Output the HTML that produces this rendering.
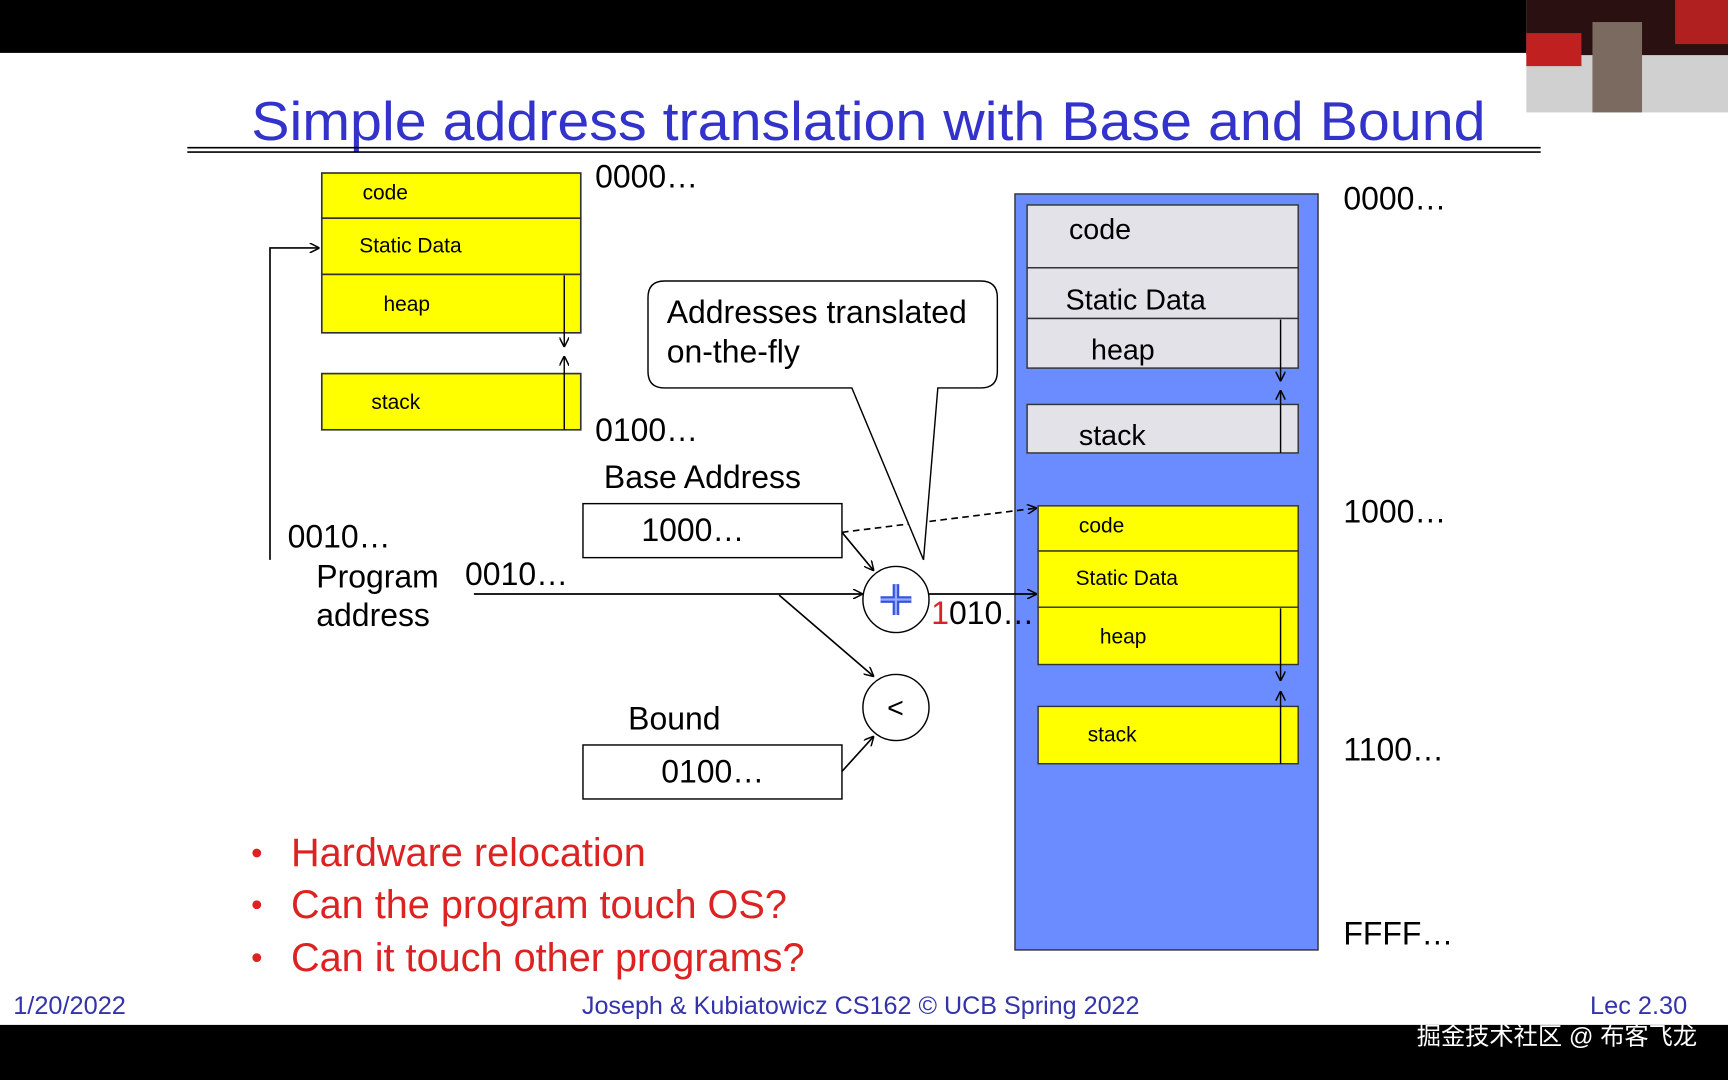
<!DOCTYPE html>
<html><head><meta charset="utf-8"><style>
html,body{margin:0;padding:0;background:#fff;overflow:hidden}
svg{display:block}
text{font-family:"Liberation Sans","Noto Sans CJK SC",sans-serif}
</style></head><body>
<svg width="1728" height="1080" viewBox="0 0 1568 980" xmlns="http://www.w3.org/2000/svg">
<defs>
<marker id="a" viewBox="0 0 10 10" refX="10" refY="5" markerWidth="9" markerHeight="9" orient="auto-start-reverse" markerUnits="userSpaceOnUse"><path d="M0,0 L10,5 L0,10" fill="none" stroke="#000" stroke-width="1.5"/></marker>
</defs>
<rect width="1568" height="980" fill="#fff"/>
<rect x="0" y="0" width="1568" height="48" fill="#000"/>
<rect x="0" y="930" width="1568" height="50" fill="#000"/>
<rect x="1385" y="0" width="183" height="102" fill="#d0d0d0"/>
<rect x="1385" y="0" width="183" height="50" fill="#2a1010"/>
<rect x="1385" y="30" width="50" height="30" fill="#c02020"/>
<rect x="1520" y="0" width="48" height="40" fill="#b02020"/>
<rect x="1445" y="20" width="45" height="82" fill="#7a6a60"/>
<text x="228" y="127" font-size="50" fill="#3333cc" textLength="1120" lengthAdjust="spacingAndGlyphs">Simple address translation with Base and Bound</text>
<line x1="170" y1="134" x2="1398" y2="134" stroke="#000" stroke-width="1.5"/>
<line x1="170" y1="138" x2="1398" y2="138" stroke="#000" stroke-width="1.5"/>
<g stroke="#333" stroke-width="1.5" fill="#ffff00">
<rect x="292" y="157" width="235" height="41"/><rect x="292" y="198" width="235" height="51"/>
<rect x="292" y="249" width="235" height="53"/><rect x="292" y="339" width="235" height="51"/>
</g>
<g font-size="19" fill="#000"><text x="329" y="181">code</text><text x="326" y="229">Static Data</text><text x="348" y="282">heap</text><text x="337" y="371">stack</text></g>
<line x1="512" y1="250" x2="512" y2="315" stroke="#000" stroke-width="1.3" marker-end="url(#a)"/>
<line x1="512" y1="390" x2="512" y2="323" stroke="#000" stroke-width="1.3" marker-end="url(#a)"/>
<g font-size="29" fill="#000">
<text x="540" y="170">0000…</text><text x="540" y="400">0100…</text>
<text x="261" y="497">0010…</text><text x="287" y="533">Program</text><text x="287" y="568">address</text>
<text x="422" y="531">0010…</text><text x="548" y="443">Base Address</text><text x="570" y="662">Bound</text>
<text x="1219" y="190">0000…</text><text x="1219" y="474">1000…</text><text x="1219" y="690">1100…</text><text x="1219" y="857">FFFF…</text>
</g>
<polyline points="245,508 245,225 290,225" fill="none" stroke="#000" stroke-width="1.5" marker-end="url(#a)"/>
<g stroke="#000" stroke-width="1.3" fill="#fff">
<rect x="529" y="457" width="235" height="49"/><rect x="529" y="676" width="235" height="49"/>
</g>
<text x="582" y="491" font-size="29">1000…</text><text x="600" y="710" font-size="29">0100…</text>
<rect x="921" y="176" width="275" height="686" fill="#6a8cff" stroke="#333" stroke-width="1.3"/>
<g stroke="#333" stroke-width="1.3" fill="#e2e2e8">
<rect x="932" y="186" width="246" height="57"/><rect x="932" y="243" width="246" height="46"/>
<rect x="932" y="289" width="246" height="45"/><rect x="932" y="367" width="246" height="44"/>
</g>
<g font-size="26"><text x="970" y="217">code</text><text x="967" y="281">Static Data</text><text x="990" y="326">heap</text><text x="979" y="404">stack</text></g>
<g stroke="#333" stroke-width="1.3" fill="#ffff00">
<rect x="942" y="459" width="236" height="41"/><rect x="942" y="500" width="236" height="51"/>
<rect x="942" y="551" width="236" height="52"/><rect x="942" y="641" width="236" height="52"/>
</g>
<g font-size="19"><text x="979" y="483">code</text><text x="976" y="531">Static Data</text><text x="998" y="584">heap</text><text x="987" y="673">stack</text></g>
<g stroke="#000" stroke-width="1.3">
<line x1="1162" y1="290" x2="1162" y2="346" marker-end="url(#a)"/>
<line x1="1162" y1="411" x2="1162" y2="354" marker-end="url(#a)"/>
<line x1="1162" y1="552" x2="1162" y2="618" marker-end="url(#a)"/>
<line x1="1162" y1="693" x2="1162" y2="627" marker-end="url(#a)"/>
</g>
<g stroke="#000" stroke-width="1.5" fill="none">
<line x1="430" y1="539" x2="783" y2="539" marker-end="url(#a)"/>
<line x1="707" y1="540" x2="793" y2="614" marker-end="url(#a)"/>
<line x1="764" y1="483" x2="793" y2="518" marker-end="url(#a)"/>
<line x1="764" y1="483" x2="941" y2="461" stroke-dasharray="6,4" marker-end="url(#a)"/>
<line x1="843" y1="539" x2="941" y2="539" marker-end="url(#a)"/>
<line x1="764" y1="700" x2="793" y2="668" marker-end="url(#a)"/>
</g>
<circle cx="813" cy="544" r="30" fill="#fff" stroke="#000" stroke-width="1.3"/>
<path d="M799,544 H827 M813,530 V558" stroke="#3355dd" stroke-width="6"/>
<path d="M799,544 H827 M813,530 V558" stroke="#99aaff" stroke-width="2"/>
<circle cx="813" cy="642" r="30" fill="#fff" stroke="#000" stroke-width="1.3"/>
<text x="805" y="651" font-size="26">&lt;</text>
<text x="845" y="566" font-size="29"><tspan fill="#dd2222">1</tspan>010…</text>
<path d="M605,255 H890 Q905,255 905,270 V337 Q905,352 890,352 H851 L838,508 L773,352 H603 Q588,352 588,337 V270 Q588,255 603,255 Z" fill="#fff" stroke="#000" stroke-width="1.3"/>
<text x="605" y="293" font-size="29">Addresses translated</text>
<text x="605" y="329" font-size="29">on-the-fly</text>
<g font-size="36" fill="#dd2222">
<circle cx="233" cy="774" r="4"/><text x="264" y="786">Hardware relocation</text>
<circle cx="233" cy="821" r="4"/><text x="264" y="833">Can the program touch OS?</text>
<circle cx="233" cy="869" r="4"/><text x="264" y="881">Can it touch other programs?</text>
</g>
<g font-size="23" fill="#3333aa">
<text x="12" y="920">1/20/2022</text>
<text x="528" y="920" textLength="506" lengthAdjust="spacingAndGlyphs">Joseph &amp; Kubiatowicz CS162 © UCB Spring 2022</text>
<text x="1531" y="920" text-anchor="end">Lec 2.30</text>
</g>
<text x="1540" y="948" font-size="22" fill="#fff" text-anchor="end">掘金技术社区 @ 布客飞龙</text>
</svg>
</body></html>
